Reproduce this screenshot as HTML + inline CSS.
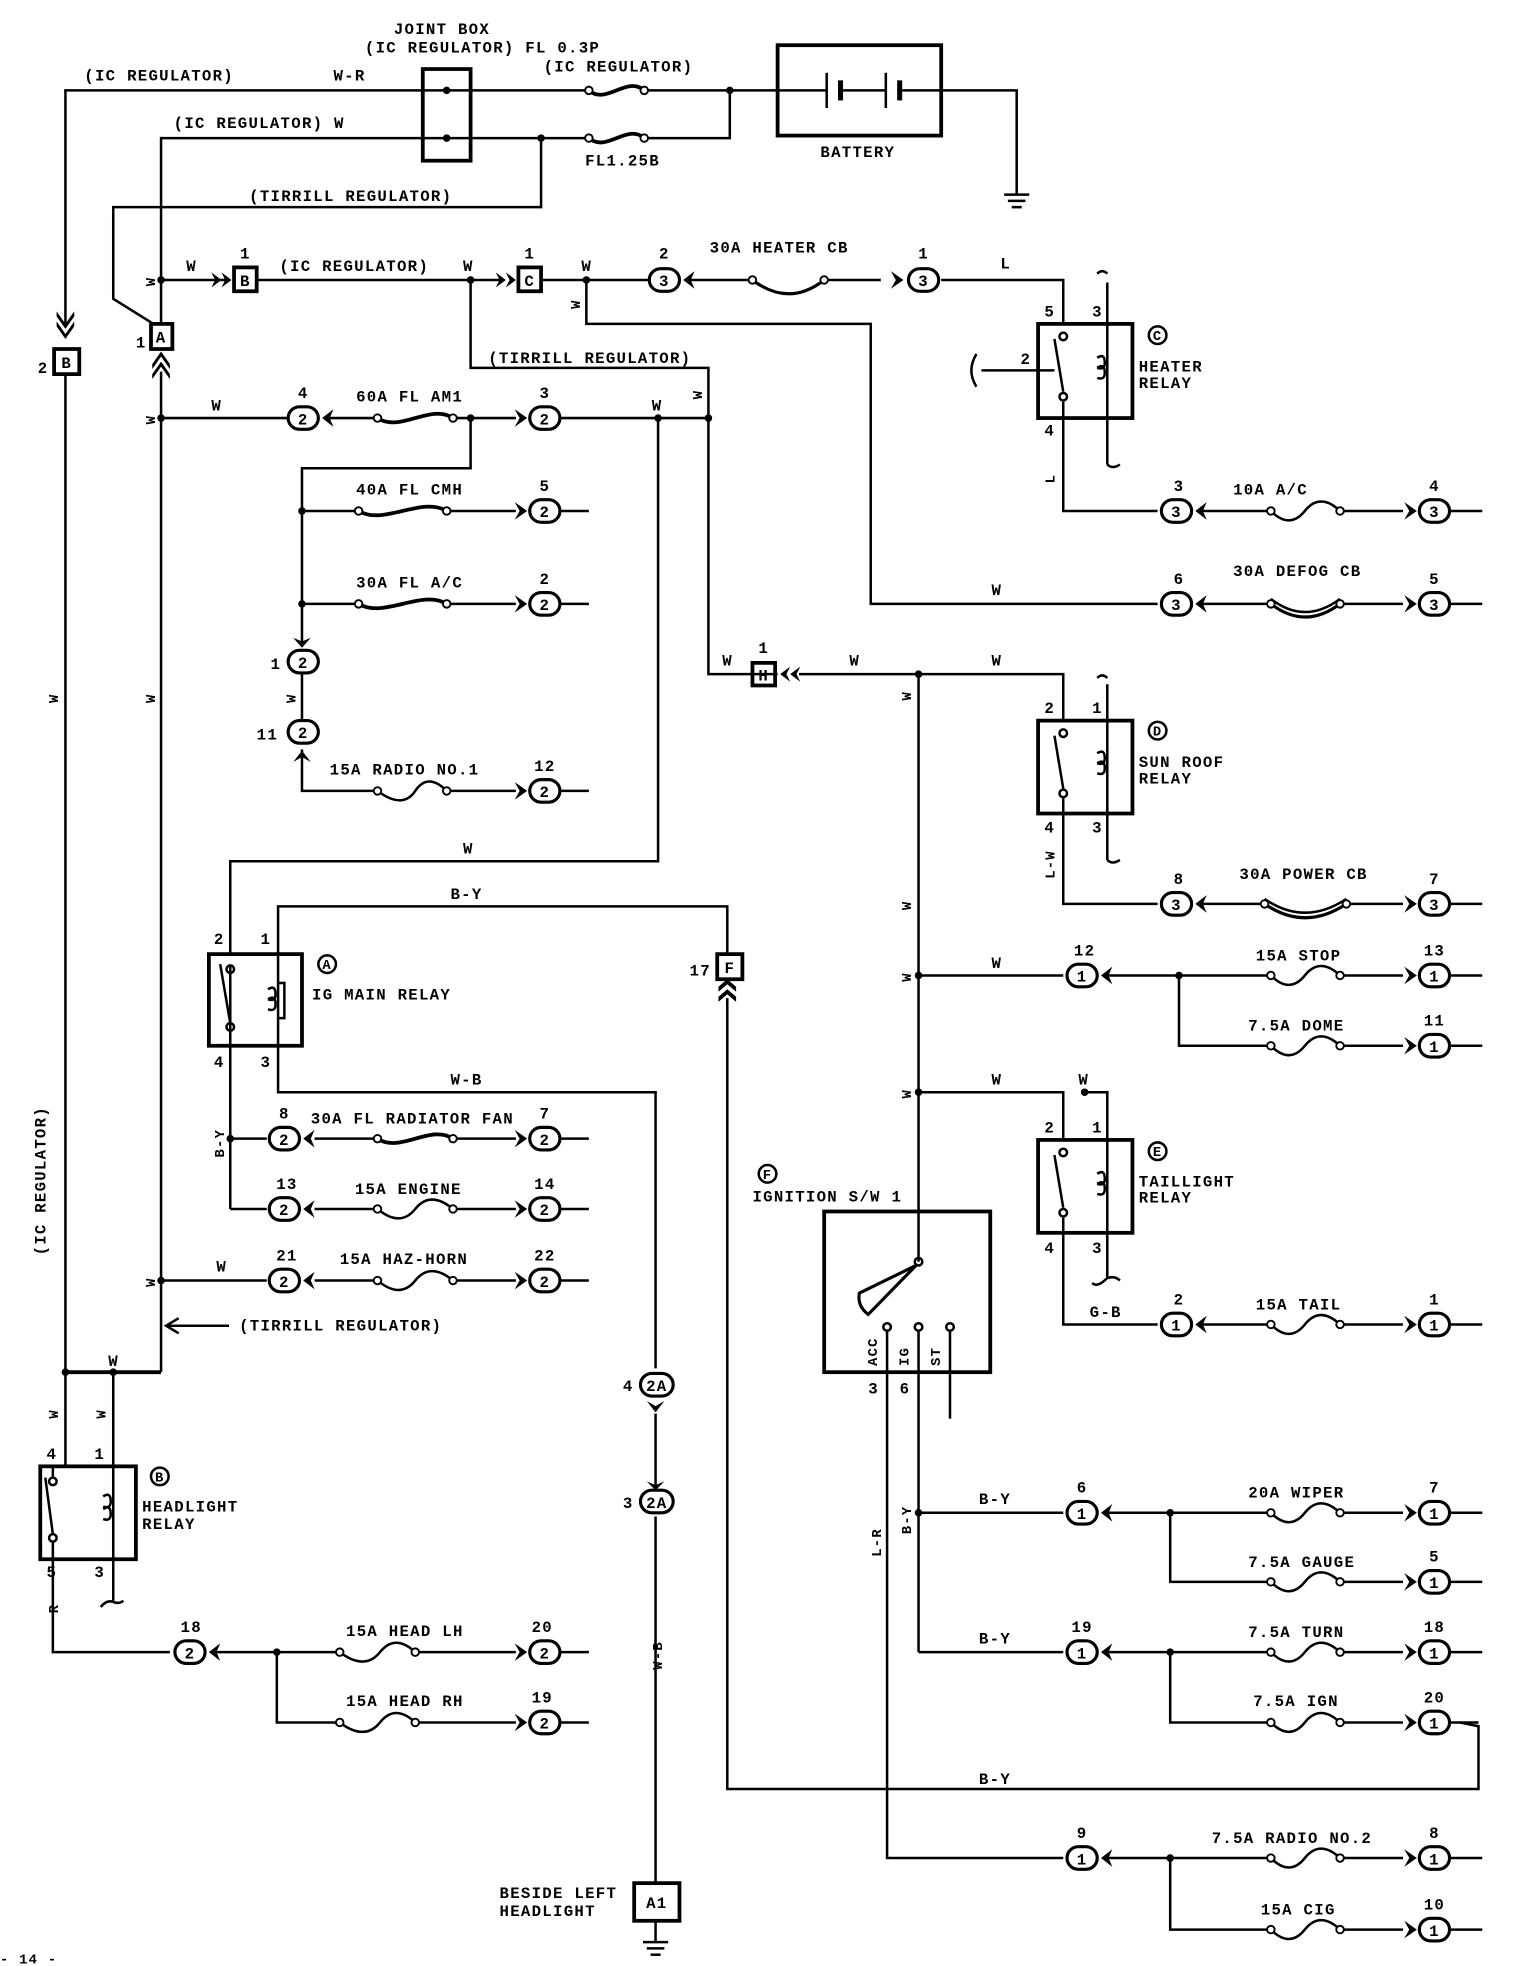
<!DOCTYPE html>
<html><head><meta charset="utf-8"><style>
html,body{margin:0;padding:0;background:#fff;}
svg{display:block}
text{font-family:"Liberation Mono",monospace;font-weight:bold;font-size:12.5px;fill:#000;letter-spacing:1px}
.s{font-size:11px}
</style></head><body>
<svg width="1520" height="1966" viewBox="0 0 1208 1566" preserveAspectRatio="none" xmlns="http://www.w3.org/2000/svg">
<g fill="none" stroke="#000" stroke-width="2">
<!-- top wires -->
<polyline points="52,258 52,72 465,72"/>
<line x1="515" y1="72" x2="618" y2="72"/>
<polyline points="128,258 128,110 465,110"/>
<polyline points="515,110 580,110 580,72"/>
<rect x="336" y="55" width="38" height="73" stroke-width="3"/>
<polyline points="430,110 430,165 90,165 90,238 122,258"/>
<!-- battery -->
<rect x="618" y="36" width="130" height="72" stroke-width="3"/>
<line x1="618" y1="72" x2="657" y2="72"/><line x1="657" y1="58" x2="657" y2="86"/>
<line x1="668" y1="64" x2="668" y2="80" stroke-width="4"/>
<line x1="704" y1="58" x2="704" y2="86"/><line x1="715" y1="64" x2="715" y2="80" stroke-width="4"/>
<line x1="668" y1="72" x2="704" y2="72"/><line x1="715" y1="72" x2="748" y2="72"/>
<polyline points="748,72 808,72 808,155"/>
<line x1="798" y1="155" x2="818" y2="155"/><line x1="801" y1="160" x2="815" y2="160"/><line x1="804" y1="165" x2="812" y2="165"/>
<!-- fuses top -->
<path d="M468,72 C482,84 498,60 512,72" stroke-width="3"/>
<path d="M468,110 C482,122 498,98 512,110" stroke-width="3"/>
<!-- left verticals -->
<line x1="52" y1="298" x2="52" y2="1168"/>
<line x1="128" y1="296" x2="128" y2="1093"/>
<polyline points="52,1093 128,1093" stroke-width="3"/>
<line x1="90" y1="1093" x2="90" y2="1168"/>
<rect x="43" y="278" width="20" height="20" stroke-width="3"/>
<rect x="120" y="258" width="17" height="20" stroke-width="3"/>
<!-- row 223 -->
<line x1="128" y1="223" x2="180" y2="223"/>
<rect x="186" y="213" width="18" height="19" stroke-width="3"/>
<line x1="204" y1="223" x2="400" y2="223"/>
<rect x="412" y="213" width="18" height="19" stroke-width="3"/>
<line x1="430" y1="223" x2="515" y2="223"/>
<line x1="548" y1="223" x2="598" y2="223"/>
<path d="M598,223 Q627,245 655,223" stroke-width="2.5"/>
<line x1="655" y1="223" x2="700" y2="223"/>
<polyline points="748,223 845,223 845,258"/>
<polyline points="466,223 466,258 692,258 692,481 920,481"/>
<polyline points="374,223 374,293 563,293 563,537 618,537"/>
<!-- AM1 row -->
<line x1="128" y1="333" x2="228" y2="333"/>
<line x1="262" y1="333" x2="300" y2="333"/>
<path d="M300,333 C318,345 342,321 360,333" stroke-width="3"/>
<line x1="360" y1="333" x2="410" y2="333"/>
<line x1="445" y1="333" x2="563" y2="333"/>
<polyline points="374,333 374,373 240,373 240,515"/>
<line x1="240" y1="407" x2="285" y2="407"/><path d="M285,407 C305,419 335,395 355,407" stroke-width="3"/><line x1="355" y1="407" x2="410" y2="407"/><line x1="445" y1="407" x2="468" y2="407"/>
<line x1="240" y1="481" x2="285" y2="481"/><path d="M285,481 C305,493 335,469 355,481" stroke-width="3"/><line x1="355" y1="481" x2="410" y2="481"/><line x1="445" y1="481" x2="468" y2="481"/>
<line x1="240" y1="537" x2="240" y2="573"/>
<polyline points="240,597 240,630 300,630"/><path d="M300,630 Q320,645 330,630 Q340,615 355,630"/><line x1="355" y1="630" x2="410" y2="630"/><line x1="445" y1="630" x2="468" y2="630"/>
<polyline points="523,333 523,686 183,686 183,760"/>
<!-- IG main relay -->
<rect x="166" y="760" width="74" height="73" stroke-width="3"/>
<polyline points="221,760 221,722 578,722 578,760"/>
<rect x="570" y="760" width="20" height="20" stroke-width="3"/>
<polyline points="578,795 578,1425 1175,1425 1175,1375 1160,1372"/>
<line x1="183" y1="770" x2="183" y2="963"/>
<circle cx="183" cy="772" r="3"/><circle cx="183" cy="818" r="3"/><line x1="175" y1="768" x2="183" y2="815"/>
<line x1="221" y1="760" x2="221" y2="833"/>
<path d="M221,783 h5 v28 h-5" stroke-width="2"/><path d="M213,788 q6,-4 6,4 q0,6 -6,4 M213,796 q6,-4 6,4 q0,6 -6,4"/>
<polyline points="221,833 221,870 521,870 521,1090"/>
<!-- left rows -->
<line x1="183" y1="907" x2="212" y2="907"/><line x1="250" y1="907" x2="300" y2="907"/><path d="M300,907 C318,919 342,895 360,907" stroke-width="3"/><line x1="360" y1="907" x2="410" y2="907"/><line x1="445" y1="907" x2="468" y2="907"/>
<polyline points="183,963 212,963"/><line x1="250" y1="963" x2="300" y2="963"/><path d="M300,963 Q318,978 330,963 Q342,948 360,963"/><line x1="360" y1="963" x2="410" y2="963"/><line x1="445" y1="963" x2="468" y2="963"/>
<line x1="128" y1="1020" x2="212" y2="1020"/><line x1="250" y1="1020" x2="300" y2="1020"/><path d="M300,1020 Q318,1035 330,1020 Q342,1005 360,1020"/><line x1="360" y1="1020" x2="410" y2="1020"/><line x1="445" y1="1020" x2="468" y2="1020"/>
<line x1="132" y1="1056" x2="182" y2="1056"/><polyline points="142,1050 132,1056 142,1062"/>
<!-- 2A & A1 -->
<line x1="521" y1="1126" x2="521" y2="1185"/>
<line x1="521" y1="1208" x2="521" y2="1500"/>
<rect x="504" y="1500" width="36" height="30" stroke-width="3"/>
<line x1="521" y1="1530" x2="521" y2="1547"/><line x1="511" y1="1547" x2="531" y2="1547"/><line x1="514" y1="1552" x2="528" y2="1552"/><line x1="517" y1="1557" x2="525" y2="1557"/>
<!-- headlight relay -->
<rect x="32" y="1168" width="76" height="74" stroke-width="3"/>
<circle cx="42" cy="1180" r="3"/><circle cx="42" cy="1225" r="3"/><line x1="36" y1="1177" x2="42" y2="1222"/>
<line x1="42" y1="1168" x2="42" y2="1177"/>
<line x1="90" y1="1168" x2="90" y2="1242"/><path d="M82,1192 q6,-4 6,4 q0,6 -6,4 M82,1202 q6,-4 6,4 q0,6 -6,4"/>
<polyline points="42,1228 42,1316 135,1316"/>
<line x1="90" y1="1242" x2="90" y2="1275"/><path d="M80,1280 q5,-6 10,-4 q5,2 8,-1"/>
<line x1="170" y1="1316" x2="270" y2="1316"/><path d="M270,1316 Q290,1331 302,1316 Q314,1301 330,1316"/><line x1="330" y1="1316" x2="410" y2="1316"/><line x1="445" y1="1316" x2="468" y2="1316"/>
<polyline points="220,1316 220,1372 270,1372"/><path d="M270,1372 Q290,1387 302,1372 Q314,1357 330,1372"/><line x1="330" y1="1372" x2="410" y2="1372"/><line x1="445" y1="1372" x2="468" y2="1372"/>
<!-- heater relay C -->
<rect x="825" y="258" width="75" height="75" stroke-width="3"/>
<circle cx="845" cy="268" r="3"/><circle cx="845" cy="316" r="3"/><line x1="838" y1="270" x2="845" y2="312"/>
<line x1="880" y1="225" x2="880" y2="370"/><path d="M872,218 q4,-4 8,0 M880,370 q4,4 10,0"/>
<path d="M872,285 q6,-4 6,4 q0,6 -6,4 M872,293 q6,-4 6,4 q0,6 -6,4"/>
<line x1="780" y1="295" x2="838" y2="295"/><path d="M776,282 q-8,13 0,26"/>
<polyline points="845,320 845,407 920,407"/>
<line x1="955" y1="407" x2="1010" y2="407"/><path d="M1010,407 Q1025,422 1037,407 Q1049,392 1065,407"/><line x1="1065" y1="407" x2="1115" y2="407"/><line x1="1150" y1="407" x2="1178" y2="407"/>
<line x1="955" y1="481" x2="1010" y2="481"/><path d="M1010,481 Q1037,502 1065,481" stroke-width="2.5"/><path d="M1010,477 Q1037,498 1065,477"/><line x1="1065" y1="481" x2="1115" y2="481"/><line x1="1150" y1="481" x2="1178" y2="481"/>
<!-- H and W bus -->
<rect x="598" y="528" width="18" height="18" stroke-width="3"/>
<polyline points="635,537 845,537 845,574"/>
<line x1="730" y1="537" x2="730" y2="1005"/>
<!-- sunroof relay D -->
<rect x="825" y="574" width="75" height="74" stroke-width="3"/>
<circle cx="845" cy="584" r="3"/><circle cx="845" cy="632" r="3"/><line x1="838" y1="586" x2="845" y2="628"/>
<line x1="880" y1="545" x2="880" y2="685"/><path d="M872,540 q4,-4 8,0 M880,685 q4,4 10,0"/>
<path d="M872,600 q6,-4 6,4 q0,6 -6,4 M872,608 q6,-4 6,4 q0,6 -6,4"/>
<polyline points="845,636 845,720 920,720"/>
<line x1="955" y1="720" x2="1005" y2="720"/><path d="M1005,720 Q1037,742 1070,720" stroke-width="2.5"/><path d="M1005,716 Q1037,738 1070,716"/><line x1="1070" y1="720" x2="1115" y2="720"/><line x1="1150" y1="720" x2="1178" y2="720"/>
<!-- stop/dome -->
<line x1="730" y1="777" x2="845" y2="777"/><line x1="880" y1="777" x2="1010" y2="777"/><path d="M1010,777 Q1025,792 1037,777 Q1049,762 1065,777"/><line x1="1065" y1="777" x2="1115" y2="777"/><line x1="1150" y1="777" x2="1178" y2="777"/>
<polyline points="937,777 937,833 1010,833"/><path d="M1010,833 Q1025,848 1037,833 Q1049,818 1065,833"/><line x1="1065" y1="833" x2="1115" y2="833"/><line x1="1150" y1="833" x2="1178" y2="833"/>
<!-- taillight relay E -->
<polyline points="730,870 845,870 845,908"/>
<polyline points="862,870 880,870 880,1018"/>
<rect x="825" y="908" width="75" height="74" stroke-width="3"/>
<circle cx="845" cy="918" r="3"/><circle cx="845" cy="966" r="3"/><line x1="838" y1="920" x2="845" y2="962"/>
<path d="M872,935 q6,-4 6,4 q0,6 -6,4 M872,943 q6,-4 6,4 q0,6 -6,4"/>
<path d="M868,1022 q4,4 12,-4 q6,-2 10,2"/>
<polyline points="845,970 845,1055 920,1055"/>
<line x1="955" y1="1055" x2="1010" y2="1055"/><path d="M1010,1055 Q1025,1070 1037,1055 Q1049,1040 1065,1055"/><line x1="1065" y1="1055" x2="1115" y2="1055"/><line x1="1150" y1="1055" x2="1178" y2="1055"/>
<!-- ignition switch -->
<rect x="655" y="965" width="132" height="128" stroke-width="3"/>
<circle cx="730" cy="1005" r="3"/>
<path d="M728,1008 L683,1030 Q681,1040 690,1047 Z" stroke-width="2.5"/>
<circle cx="705" cy="1057" r="3"/><circle cx="730" cy="1057" r="3"/><circle cx="755" cy="1057" r="3"/>
<polyline points="705,1060 705,1480 845,1480"/>
<line x1="730" y1="1060" x2="730" y2="1316"/>
<line x1="755" y1="1060" x2="755" y2="1130"/>
<!-- lower right rows -->
<line x1="730" y1="1205" x2="845" y2="1205"/><line x1="880" y1="1205" x2="1010" y2="1205"/><path d="M1010,1205 Q1025,1220 1037,1205 Q1049,1190 1065,1205"/><line x1="1065" y1="1205" x2="1115" y2="1205"/><line x1="1150" y1="1205" x2="1178" y2="1205"/>
<polyline points="930,1205 930,1260 1010,1260"/><path d="M1010,1260 Q1025,1275 1037,1260 Q1049,1245 1065,1260"/><line x1="1065" y1="1260" x2="1115" y2="1260"/><line x1="1150" y1="1260" x2="1178" y2="1260"/>
<line x1="730" y1="1316" x2="845" y2="1316"/><line x1="880" y1="1316" x2="1010" y2="1316"/><path d="M1010,1316 Q1025,1331 1037,1316 Q1049,1301 1065,1316"/><line x1="1065" y1="1316" x2="1115" y2="1316"/><line x1="1150" y1="1316" x2="1178" y2="1316"/>
<polyline points="930,1316 930,1372 1010,1372"/><path d="M1010,1372 Q1025,1387 1037,1372 Q1049,1357 1065,1372"/><line x1="1065" y1="1372" x2="1115" y2="1372"/><line x1="1150" y1="1372" x2="1175" y2="1372"/>
<line x1="880" y1="1480" x2="1010" y2="1480"/><path d="M1010,1480 Q1025,1495 1037,1480 Q1049,1465 1065,1480"/><line x1="1065" y1="1480" x2="1115" y2="1480"/><line x1="1150" y1="1480" x2="1178" y2="1480"/>
<polyline points="930,1480 930,1537 1010,1537"/><path d="M1010,1537 Q1025,1552 1037,1537 Q1049,1522 1065,1537"/><line x1="1065" y1="1537" x2="1115" y2="1537"/><line x1="1150" y1="1537" x2="1178" y2="1537"/>
<!-- label circles -->
<circle cx="920" cy="267" r="7"/><circle cx="920" cy="582" r="7"/><circle cx="920" cy="917" r="7"/><circle cx="260" cy="768" r="7"/><circle cx="127" cy="1176" r="7"/><circle cx="610" cy="935" r="7"/>
</g>
<!-- fuse end circles -->
<g fill="#fff" stroke="#000" stroke-width="1.5">
<circle cx="468" cy="72" r="3"/><circle cx="512" cy="72" r="3"/><circle cx="468" cy="110" r="3"/><circle cx="512" cy="110" r="3"/>
<circle cx="598" cy="223" r="3"/><circle cx="655" cy="223" r="3"/>
<circle cx="300" cy="333" r="3"/><circle cx="360" cy="333" r="3"/><circle cx="285" cy="407" r="3"/><circle cx="355" cy="407" r="3"/><circle cx="285" cy="481" r="3"/><circle cx="355" cy="481" r="3"/><circle cx="300" cy="630" r="3"/><circle cx="355" cy="630" r="3"/>
<circle cx="300" cy="907" r="3"/><circle cx="360" cy="907" r="3"/><circle cx="300" cy="963" r="3"/><circle cx="360" cy="963" r="3"/><circle cx="300" cy="1020" r="3"/><circle cx="360" cy="1020" r="3"/>
<circle cx="270" cy="1316" r="3"/><circle cx="330" cy="1316" r="3"/><circle cx="270" cy="1372" r="3"/><circle cx="330" cy="1372" r="3"/>
<circle cx="1010" cy="407" r="3"/><circle cx="1065" cy="407" r="3"/><circle cx="1010" cy="481" r="3"/><circle cx="1065" cy="481" r="3"/><circle cx="1005" cy="720" r="3"/><circle cx="1070" cy="720" r="3"/>
<circle cx="1010" cy="777" r="3"/><circle cx="1065" cy="777" r="3"/><circle cx="1010" cy="833" r="3"/><circle cx="1065" cy="833" r="3"/><circle cx="1010" cy="1055" r="3"/><circle cx="1065" cy="1055" r="3"/>
<circle cx="1010" cy="1205" r="3"/><circle cx="1065" cy="1205" r="3"/><circle cx="1010" cy="1260" r="3"/><circle cx="1065" cy="1260" r="3"/><circle cx="1010" cy="1316" r="3"/><circle cx="1065" cy="1316" r="3"/><circle cx="1010" cy="1372" r="3"/><circle cx="1065" cy="1372" r="3"/><circle cx="1010" cy="1480" r="3"/><circle cx="1065" cy="1480" r="3"/><circle cx="1010" cy="1537" r="3"/><circle cx="1065" cy="1537" r="3"/>
</g>
<!-- dots -->
<g fill="#000">
<circle cx="355" cy="72" r="3"/><circle cx="355" cy="110" r="3"/><circle cx="580" cy="72" r="3"/><circle cx="430" cy="110" r="3"/>
<circle cx="128" cy="223" r="3"/><circle cx="374" cy="223" r="3"/><circle cx="466" cy="223" r="3"/>
<circle cx="128" cy="333" r="3"/><circle cx="374" cy="333" r="3"/><circle cx="523" cy="333" r="3"/><circle cx="563" cy="333" r="3"/>
<circle cx="240" cy="407" r="3"/><circle cx="240" cy="481" r="3"/><circle cx="183" cy="907" r="3"/><circle cx="128" cy="1020" r="3"/>
<circle cx="52" cy="1093" r="3"/><circle cx="90" cy="1093" r="3"/><circle cx="220" cy="1316" r="3"/>
<circle cx="730" cy="537" r="3"/><circle cx="730" cy="777" r="3"/><circle cx="937" cy="777" r="3"/><circle cx="730" cy="870" r="3"/><circle cx="862" cy="870" r="3"/>
<circle cx="730" cy="1205" r="3"/><circle cx="930" cy="1205" r="3"/><circle cx="930" cy="1316" r="3"/><circle cx="930" cy="1480" r="3"/>
<!-- double arrows -->
<polygon points="45,248 52,258 59,248 59,252 52,262 45,252"/><polygon points="45,256 52,266 59,256 59,260 52,270 45,260"/>
<polygon points="121,290 128,280 135,290 135,294 128,284 121,294"/><polygon points="121,298 128,288 135,298 135,302 128,292 121,302"/>
<polygon points="168,217 176,223 168,229 171,223"/><polygon points="176,217 184,223 176,229 179,223"/>
<polygon points="394,217 402,223 394,229 397,223"/><polygon points="402,217 410,223 402,229 405,223"/>
<polygon points="628,531 620,537 628,543 625,537"/><polygon points="636,531 628,537 636,543 633,537"/>
<polygon points="571,786 578,780 585,786 585,790 578,784 571,790"/><polygon points="571,794 578,788 585,794 585,798 578,792 571,798"/>
<!-- single chevrons into connectors -->
<polygon points="233,508 240,516 247,508 240,511"/>
<polygon points="233,607 240,598 247,607 240,603"/>
<polygon points="514,1116 521,1125 528,1116 521,1120"/>
<polygon points="514,1180 521,1187 528,1180 521,1183"/>
</g>
<!-- connectors: left type (chevron right of circle pointing left) -->
<g stroke="#000" stroke-width="2.5" fill="#fff">
<rect x="516" y="214" width="24" height="18" rx="9"/><rect x="722" y="214" width="24" height="18" rx="9"/>
<rect x="229" y="324" width="24" height="18" rx="9"/><rect x="421" y="324" width="24" height="18" rx="9"/>
<rect x="421" y="398" width="24" height="18" rx="9"/><rect x="421" y="472" width="24" height="18" rx="9"/>
<rect x="229" y="518" width="24" height="18" rx="9"/><rect x="229" y="574" width="24" height="18" rx="9"/>
<rect x="421" y="621" width="24" height="18" rx="9"/>
<rect x="214" y="898" width="24" height="18" rx="9"/><rect x="421" y="898" width="24" height="18" rx="9"/>
<rect x="214" y="954" width="24" height="18" rx="9"/><rect x="421" y="954" width="24" height="18" rx="9"/>
<rect x="214" y="1011" width="24" height="18" rx="9"/><rect x="421" y="1011" width="24" height="18" rx="9"/>
<rect x="509" y="1094" width="26" height="18" rx="9"/><rect x="509" y="1187" width="26" height="18" rx="9"/>
<rect x="139" y="1307" width="24" height="18" rx="9"/><rect x="421" y="1307" width="24" height="18" rx="9"/><rect x="421" y="1363" width="24" height="18" rx="9"/>
<rect x="923" y="398" width="24" height="18" rx="9"/><rect x="1128" y="398" width="24" height="18" rx="9"/>
<rect x="923" y="472" width="24" height="18" rx="9"/><rect x="1128" y="472" width="24" height="18" rx="9"/>
<rect x="923" y="711" width="24" height="18" rx="9"/><rect x="1128" y="711" width="24" height="18" rx="9"/>
<rect x="848" y="768" width="24" height="18" rx="9"/><rect x="1128" y="768" width="24" height="18" rx="9"/><rect x="1128" y="824" width="24" height="18" rx="9"/>
<rect x="923" y="1046" width="24" height="18" rx="9"/><rect x="1128" y="1046" width="24" height="18" rx="9"/>
<rect x="848" y="1196" width="24" height="18" rx="9"/><rect x="1128" y="1196" width="24" height="18" rx="9"/><rect x="1128" y="1251" width="24" height="18" rx="9"/>
<rect x="848" y="1307" width="24" height="18" rx="9"/><rect x="1128" y="1307" width="24" height="18" rx="9"/><rect x="1128" y="1363" width="24" height="18" rx="9"/>
<rect x="848" y="1471" width="24" height="18" rx="9"/><rect x="1128" y="1471" width="24" height="18" rx="9"/><rect x="1128" y="1528" width="24" height="18" rx="9"/>
</g>
<g fill="#000">
<!-- left-pointing chevrons (after circle) -->
<polygon points="552,216 543,223 552,230 549,223"/>
<polygon points="265,326 256,333 265,340 262,333"/>
<polygon points="250,900 241,907 250,914 247,907"/><polygon points="250,956 241,963 250,970 247,963"/><polygon points="250,1013 241,1020 250,1027 247,1020"/>
<polygon points="175,1309 166,1316 175,1323 172,1316"/>
<polygon points="959,400 950,407 959,414 956,407"/><polygon points="959,474 950,481 959,488 956,481"/><polygon points="959,713 950,720 959,727 956,720"/>
<polygon points="884,770 875,777 884,784 881,777"/><polygon points="959,1048 950,1055 959,1062 956,1055"/>
<polygon points="884,1198 875,1205 884,1212 881,1205"/><polygon points="884,1309 875,1316 884,1323 881,1316"/><polygon points="884,1473 875,1480 884,1487 881,1480"/>
<!-- right-pointing chevrons (before circle) -->
<polygon points="708,216 718,223 708,230 712,223"/>
<polygon points="409,326 419,333 409,340 413,333"/><polygon points="409,400 419,407 409,414 413,407"/><polygon points="409,474 419,481 409,488 413,481"/><polygon points="409,623 419,630 409,637 413,630"/>
<polygon points="409,900 419,907 409,914 413,907"/><polygon points="409,956 419,963 409,970 413,963"/><polygon points="409,1013 419,1020 409,1027 413,1020"/>
<polygon points="409,1309 419,1316 409,1323 413,1316"/><polygon points="409,1365 419,1372 409,1379 413,1372"/>
<polygon points="1116,400 1126,407 1116,414 1120,407"/><polygon points="1116,474 1126,481 1116,488 1120,481"/><polygon points="1116,713 1126,720 1116,727 1120,720"/>
<polygon points="1116,770 1126,777 1116,784 1120,777"/><polygon points="1116,826 1126,833 1116,840 1120,833"/><polygon points="1116,1048 1126,1055 1116,1062 1120,1055"/>
<polygon points="1116,1198 1126,1205 1116,1212 1120,1205"/><polygon points="1116,1253 1126,1260 1116,1267 1120,1260"/><polygon points="1116,1309 1126,1316 1116,1323 1120,1316"/><polygon points="1116,1365 1126,1372 1116,1379 1120,1372"/><polygon points="1116,1473 1126,1480 1116,1487 1120,1480"/><polygon points="1116,1530 1126,1537 1116,1544 1120,1537"/>
</g>
<!-- connector numbers -->
<g text-anchor="middle">
<text x="528" y="228">3</text><text x="734" y="228">3</text>
<text x="241" y="338">2</text><text x="433" y="338">2</text><text x="433" y="412">2</text><text x="433" y="486">2</text>
<text x="241" y="532">2</text><text x="241" y="588">2</text><text x="433" y="635">2</text>
<text x="226" y="912">2</text><text x="433" y="912">2</text><text x="226" y="968">2</text><text x="433" y="968">2</text><text x="226" y="1025">2</text><text x="433" y="1025">2</text>
<text x="522" y="1108">2A</text><text x="522" y="1201">2A</text>
<text x="151" y="1321">2</text><text x="433" y="1321">2</text><text x="433" y="1377">2</text>
<text x="935" y="412">3</text><text x="1140" y="412">3</text><text x="935" y="486">3</text><text x="1140" y="486">3</text><text x="935" y="725">3</text><text x="1140" y="725">3</text>
<text x="860" y="782">1</text><text x="1140" y="782">1</text><text x="1140" y="838">1</text><text x="935" y="1060">1</text><text x="1140" y="1060">1</text>
<text x="860" y="1210">1</text><text x="1140" y="1210">1</text><text x="1140" y="1265">1</text><text x="860" y="1321">1</text><text x="1140" y="1321">1</text><text x="1140" y="1377">1</text>
<text x="860" y="1485">1</text><text x="1140" y="1485">1</text><text x="1140" y="1542">1</text>
<!-- numbers above -->
<text x="528" y="206">2</text><text x="734" y="206">1</text><text x="195" y="206">1</text><text x="421" y="206">1</text>
<text x="241" y="317">4</text><text x="433" y="317">3</text><text x="433" y="391">5</text><text x="433" y="465">2</text><text x="433" y="614">12</text>
<text x="226" y="891">8</text><text x="433" y="891">7</text><text x="228" y="947">13</text><text x="433" y="947">14</text><text x="228" y="1004">21</text><text x="433" y="1004">22</text>
<text x="152" y="1300">18</text><text x="431" y="1300">20</text><text x="431" y="1356">19</text>
<text x="937" y="391">3</text><text x="1140" y="391">4</text><text x="937" y="465">6</text><text x="1140" y="465">5</text><text x="937" y="704">8</text><text x="1140" y="704">7</text>
<text x="862" y="761">12</text><text x="1140" y="761">13</text><text x="1140" y="817">11</text><text x="937" y="1039">2</text><text x="1140" y="1039">1</text>
<text x="860" y="1189">6</text><text x="1140" y="1189">7</text><text x="1140" y="1244">5</text><text x="860" y="1300">19</text><text x="1140" y="1300">18</text><text x="1140" y="1356">20</text>
<text x="860" y="1464">9</text><text x="1140" y="1464">8</text><text x="1140" y="1521">10</text>
<text x="607" y="520">1</text>
<!-- box letters -->
<text x="53" y="293">B</text><text x="128" y="273">A</text><text x="195" y="228">B</text><text x="421" y="228">C</text><text x="607" y="542">H</text><text x="580" y="775">F</text>
<text x="522" y="1520">A1</text>
<text class="s" x="920" y="271">C</text><text class="s" x="920" y="586">D</text><text class="s" x="920" y="921">E</text><text class="s" x="260" y="772">A</text><text class="s" x="127" y="1180">B</text><text class="s" x="610" y="939">F</text>
</g>
<!-- side numbers -->
<text x="30" y="297">2</text><text x="108" y="277">1</text><text x="215" y="533">1</text><text x="204" y="589">11</text><text x="548" y="777">17</text><text x="495" y="1108">4</text><text x="495" y="1201">3</text>
<text x="170" y="752">2</text><text x="207" y="752">1</text><text x="170" y="850">4</text><text x="207" y="850">3</text>
<text x="37" y="1162">4</text><text x="75" y="1162">1</text><text x="37" y="1256">5</text><text x="75" y="1256">3</text>
<text x="830" y="252">5</text><text x="868" y="252">3</text><text x="811" y="290">2</text><text x="830" y="347">4</text>
<text x="830" y="568">2</text><text x="868" y="568">1</text><text x="830" y="663">4</text><text x="868" y="663">3</text>
<text x="830" y="902">2</text><text x="868" y="902">1</text><text x="830" y="998">4</text><text x="868" y="998">3</text>
<text x="690" y="1110">3</text><text x="715" y="1110">6</text>
<!-- labels -->
<text x="313" y="27">JOINT BOX</text>
<text x="290" y="42">(IC REGULATOR) FL 0.3P</text>
<text x="432" y="57">(IC REGULATOR)</text>
<text x="67" y="64">(IC REGULATOR)</text><text x="265" y="64">W-R</text>
<text x="138" y="102">(IC REGULATOR) W</text>
<text x="465" y="132">FL1.25B</text>
<text x="652" y="125">BATTERY</text>
<text x="198" y="160">(TIRRILL REGULATOR)</text>
<text x="148" y="216">W</text><text x="222" y="216">(IC REGULATOR)</text><text x="368" y="216">W</text><text x="462" y="216">W</text>
<text x="564" y="201">30A HEATER CB</text><text x="795" y="214">L</text>
<text x="388" y="289">(TIRRILL REGULATOR)</text>
<text x="168" y="327">W</text><text x="283" y="320">60A FL AM1</text><text x="518" y="327">W</text>
<text x="283" y="394">40A FL CMH</text><text x="283" y="468">30A FL A/C</text>
<text x="262" y="617">15A RADIO NO.1</text>
<text x="368" y="680">W</text><text x="358" y="716">B-Y</text>
<text x="248" y="796">IG MAIN RELAY</text>
<text x="358" y="864">W-B</text>
<text x="247" y="895">30A FL RADIATOR FAN</text>
<text x="282" y="951">15A ENGINE</text>
<text x="172" y="1013">W</text><text x="270" y="1007">15A HAZ-HORN</text>
<text x="190" y="1060">(TIRRILL REGULATOR)</text>
<text x="86" y="1088">W</text>
<text x="113" y="1204">HEADLIGHT</text><text x="113" y="1218">RELAY</text>
<text x="275" y="1303">15A HEAD LH</text><text x="275" y="1359">15A HEAD RH</text>
<text x="397" y="1512">BESIDE LEFT</text><text x="397" y="1526">HEADLIGHT</text>
<text x="905" y="296">HEATER</text><text x="905" y="309">RELAY</text>
<text x="980" y="394">10A A/C</text><text x="788" y="474">W</text><text x="980" y="459">30A DEFOG CB</text>
<text x="574" y="530">W</text><text x="675" y="530">W</text><text x="788" y="530">W</text>
<text x="905" y="611">SUN ROOF</text><text x="905" y="624">RELAY</text>
<text x="985" y="700">30A POWER CB</text>
<text x="788" y="771">W</text><text x="998" y="765">15A STOP</text><text x="992" y="821">7.5A DOME</text>
<text x="788" y="864">W</text><text x="857" y="864">W</text>
<text x="905" y="945">TAILLIGHT</text><text x="905" y="958">RELAY</text>
<text x="598" y="957">IGNITION S/W 1</text>
<text x="866" y="1049">G-B</text><text x="998" y="1043">15A TAIL</text>
<text x="778" y="1198">B-Y</text><text x="992" y="1193">20A WIPER</text><text x="992" y="1248">7.5A GAUGE</text>
<text x="778" y="1309">B-Y</text><text x="992" y="1304">7.5A TURN</text><text x="996" y="1359">7.5A IGN</text>
<text x="778" y="1421">B-Y</text>
<text x="963" y="1468">7.5A RADIO NO.2</text><text x="1002" y="1525">15A CIG</text>
<text x="0" y="1564" class="s">- 14 -</text>
<!-- rotated labels -->
<text transform="translate(36,1000) rotate(-90)">(IC REGULATOR)</text>
<text transform="translate(697,1088) rotate(-90)" class="s">ACC</text>
<text transform="translate(722,1088) rotate(-90)" class="s">IG</text>
<text transform="translate(747,1088) rotate(-90)" class="s">ST</text>
<text transform="translate(700,1240) rotate(-90)" class="s">L-R</text>
<text transform="translate(724,1222) rotate(-90)" class="s">B-Y</text>
<text transform="translate(178,922) rotate(-90)" class="s">B-Y</text>
<text transform="translate(526,1330) rotate(-90)" class="s">W-B</text>
<text transform="translate(838,385) rotate(-90)" class="s">L</text>
<text transform="translate(838,700) rotate(-90)" class="s">L-W</text>
<text transform="translate(46,1285) rotate(-90)" class="s">R</text>
<g class="s">
<text transform="translate(123,228) rotate(-90)" class="s">W</text><text transform="translate(123,338) rotate(-90)" class="s">W</text><text transform="translate(123,1025) rotate(-90)" class="s">W</text>
<text transform="translate(46,560) rotate(-90)" class="s">W</text><text transform="translate(123,560) rotate(-90)" class="s">W</text>
<text transform="translate(461,246) rotate(-90)" class="s">W</text><text transform="translate(558,318) rotate(-90)" class="s">W</text><text transform="translate(235,560) rotate(-90)" class="s">W</text>
<text transform="translate(46,1130) rotate(-90)" class="s">W</text><text transform="translate(84,1130) rotate(-90)" class="s">W</text>
<text transform="translate(724,558) rotate(-90)" class="s">W</text><text transform="translate(724,725) rotate(-90)" class="s">W</text><text transform="translate(724,782) rotate(-90)" class="s">W</text><text transform="translate(724,875) rotate(-90)" class="s">W</text>
</g>
</svg>
</body></html>
